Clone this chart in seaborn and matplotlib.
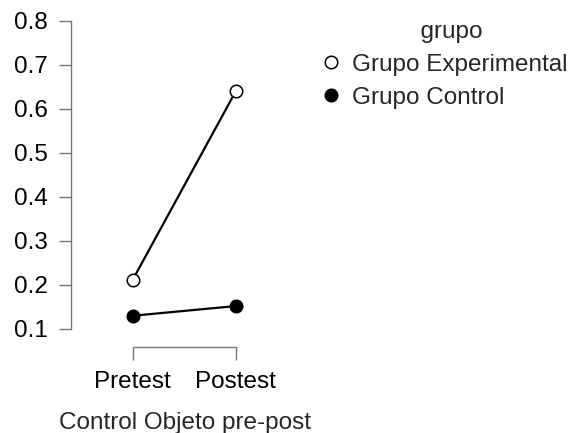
import matplotlib
matplotlib.use("Agg")
import matplotlib.pyplot as plt
import seaborn as sns
import pandas as pd
from matplotlib.lines import Line2D

momentos = ["Pretest", "Postest"]
grupos = ["Grupo Experimental", "Grupo Control"]
experimental = [0.212, 0.640]
control = [0.130, 0.152]
yticks = [0.1, 0.2, 0.3, 0.4, 0.5, 0.6, 0.7, 0.8]

df = pd.DataFrame({
    "momento": momentos * 2,
    "grupo": [grupos[0]] * 2 + [grupos[1]] * 2,
    "valor": experimental + control,
})

sns.set_theme(style="ticks")
plt.rcParams["font.family"] = ["Liberation Sans", "DejaVu Sans"]

fig = plt.figure(figsize=(5.73, 4.33), dpi=100)
ax = fig.add_axes([71 / 573, 1 - 347 / 433, 215 / 573, (347 - 20.7) / 433])

faces = {grupos[0]: "white", grupos[1]: "black"}
for g in grupos:
    sub = df[df["grupo"] == g]
    sns.lineplot(data=sub, x="momento", y="valor", ax=ax, color="black",
                 marker="o", markersize=9, markerfacecolor=faces[g],
                 markeredgecolor="black", markeredgewidth=1.1, linewidth=1.6,
                 legend=False)

ax.set_xlim(-0.6, 1.487)
ax.set_ylim(0.059, 0.8)
ax.set_yticks(yticks)
ax.set_yticklabels([f"{v:.1f}" for v in yticks])
ax.set_xticks([0, 1])
ax.set_xticklabels(momentos)
for s in ["top", "right"]:
    ax.spines[s].set_visible(False)
ax.spines["left"].set_bounds(0.1, 0.8)
ax.spines["bottom"].set_bounds(0, 1)
for s in ["left", "bottom"]:
    ax.spines[s].set_color("#777777")
    ax.spines[s].set_linewidth(1.0)
ax.tick_params(axis="both", direction="out", length=9, width=1.0,
               color="#777777", labelsize=17.5, labelcolor="black", pad=8)
ax.set_ylabel("")
ax.set_xlabel("Control Objeto pre-post", fontsize=17.5, labelpad=10)
ax.xaxis.set_label_coords(0.53, -0.20)
ax.xaxis.label.set_verticalalignment("top")

handles = [
    Line2D([], [], linestyle="none", marker="o", markersize=9,
           markerfacecolor="white", markeredgecolor="black", markeredgewidth=1.1),
    Line2D([], [], linestyle="none", marker="o", markersize=9,
           markerfacecolor="black", markeredgecolor="black", markeredgewidth=1.1),
]
leg = fig.legend(handles, grupos, title="  grupo", loc="upper left",
                 bbox_to_anchor=(312 / 573, 1 - 11 / 433), frameon=False,
                 fontsize=17.5, title_fontsize=17.5, handlelength=0.8,
                 handletextpad=0.44, labelspacing=0.45, borderaxespad=0)

fig.savefig("out.png", dpi=100)
